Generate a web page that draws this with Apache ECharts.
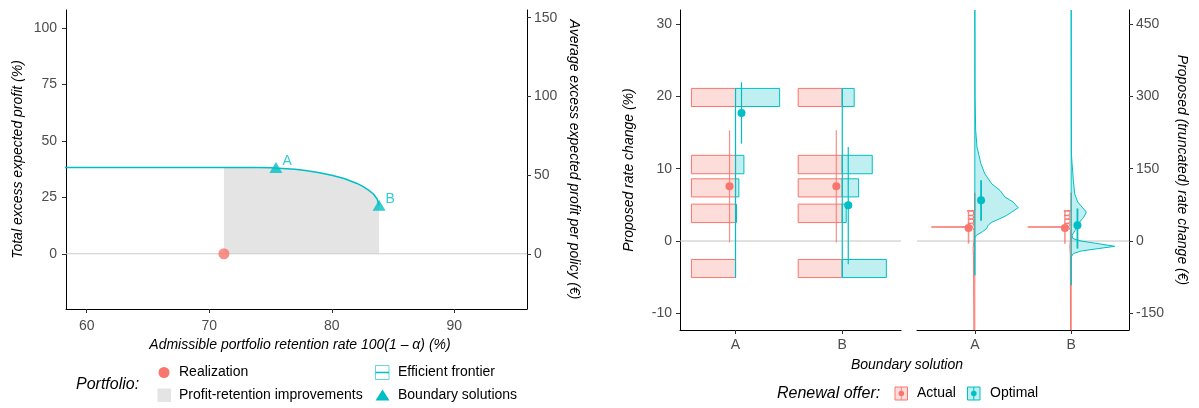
<!DOCTYPE html>
<html><head><meta charset="utf-8">
<script src="https://cdn.jsdelivr.net/npm/echarts@6/dist/echarts.min.js"></script>
<style>html,body{margin:0;padding:0;background:#fff}#chart{width:1199px;height:408px}</style>
</head><body><div id="chart"></div>
<script>
// ---------------- Left panel data ----------------
const retentionTicks = [60, 70, 80, 90];
const profitTicks = [0, 25, 50, 75, 100];
const perPolicyTicks = [0, 50, 100, 150];
const frontierX = [55.0, 74.0, 75.0, 76.0, 77.0, 78.0, 79.0, 80.0, 81.0, 82.0, 82.5, 83.0, 83.4, 83.7, 83.86];
const frontierY = [38.2, 38.2, 38.1, 37.85, 37.45, 36.8, 35.95, 34.85, 33.35, 31.3, 30.0, 28.2, 26.5, 24.3, 21.5];
const realizationX = [71.2];
const realizationY = [0];
const boundaryLabels = ['A', 'B'];
const boundaryX = [75.44, 83.86];
const boundaryY = [38.2, 21.5];

// ---------------- Right panel data ----------------
const boundaryCategories = ['A', 'B'];
const rateTicks = [-10, 0, 10, 20, 30];
const euroTicks = [-150, 0, 150, 300, 450];
const binLow = [18.6, 9.3, 6.1, 2.55, -5.05];
const binHigh = [21.1, 11.85, 8.6, 5.1, -2.55];
const actualShareA = [1, 1, 1, 1, 1];
const actualShareB = [1, 1, 1, 1, 1];
const optimalShareA = [1.0, 0.19, 0.076, 0.023, 0.0];
const optimalShareB = [0.27, 0.68, 0.37, 0.09, 1.0];
const actualRateMean = [7.57, 7.57];
const actualRateLow = [-0.2, -0.2];
const actualRateHigh = [15.3, 15.3];
const optimalRateMean = [17.7, 4.94];
const optimalRateLow = [13.47, -3.22];
const optimalRateHigh = [21.95, 13.0];
const actualEuroMean = [27, 27];
const actualEuroLow = [-5.4, -5.4];
const actualEuroHigh = [63.6, 63.6];
const optimalEuroMean = [84.5, 32.5];
const optimalEuroLow = [42, -15.75];
const optimalEuroHigh = [126, 67.5];
// densities (euro value, relative density)
const actualDensEuroA = [-600, -30, -15, 0, 22, 28.5, 29.1, 29.7, 33, 35.5, 36.5, 37.5, 44.5, 45.5, 46.5, 52, 53, 54, 61.5, 62.5, 63.5, 100];
const actualDensA     = [0, 0.03, 0.04, 0.02, 0.02, 0.05, 1.0, 0.05, 0.03, 0.03, 0.16, 0.03, 0.03, 0.15, 0.03, 0.03, 0.15, 0.03, 0.03, 0.18, 0, 0];
const actualDensEuroB = [-600, -30, -10, 0, 22, 28.5, 29.1, 29.7, 33, 35.5, 36.5, 37.5, 44.5, 45.5, 46.5, 52, 53, 54, 61.5, 62.5, 63.5, 100];
const actualDensB     = [0, 0.02, 0.03, 0.02, 0.02, 0.05, 1.0, 0.05, 0.03, 0.03, 0.15, 0.03, 0.03, 0.14, 0.03, 0.03, 0.16, 0.03, 0.03, 0.17, 0, 0];
const optimalDensEuroA = [-71, 7, 12, 19, 25.5, 33, 39, 46.5, 53, 60, 69, 81, 91.5, 105, 118.5, 139.5, 160.5, 195, 229.5, 300, 600];
const optimalDensA     = [0, 0, 0.04, 0.17, 0.27, 0.31, 0.39, 0.58, 0.73, 0.85, 1.0, 0.88, 0.69, 0.58, 0.39, 0.23, 0.14, 0.05, 0.02, 0.005, 0];
const optimalDensEuroB = [-91.5, -33, -26, -20.7, -15.75, -11, -5.4, 0, 5, 12, 22, 32.5, 39, 49.5, 60, 70.5, 81, 98, 126, 160.5, 181.5, 600];
const optimalDensB     = [0, 0, 0.05, 0.23, 0.62, 1.0, 0.62, 0.23, 0.04, 0.02, 0.09, 0.17, 0.19, 0.29, 0.35, 0.25, 0.15, 0.08, 0.05, 0.02, 0.005, 0];

// ---------------- Layout / style constants ----------------
const FONT = '"Liberation Sans", Arial, Helvetica, sans-serif';
const RED = '#F8766D', TEAL = '#00BFC4';
const RED_FILL = 'rgba(248,118,109,0.25)', TEAL_FILL = 'rgba(0,191,196,0.25)';
const LEFT_X = [58.31, 95.93], LEFT_Y = [-24.5, 108.1], LEFT_Y2 = [-35.1, 154.9];
const F1_X = [0.48, 2.55], RATE_Y = [-12.3, 31.94];
const F2_X = [0.4, 2.6], EURO_Y = [-184.5, 479.1];
const BAR_SCALE = 0.413, DENS_SCALE = 0.451, DODGE1 = 0.056, DODGE2 = 0.065;

const chart = echarts.init(document.getElementById('chart'), null, {renderer: 'canvas'});

const tickLabel = (extra) => Object.assign({color: '#4d4d4d', fontSize: 14, fontFamily: FONT, margin: 8}, extra || {});
const axisLine = {show: true, onZero: false, lineStyle: {color: '#000', width: 1}};
const axisTick = (vals) => ({show: true, length: 4, customValues: vals, lineStyle: {color: '#333', width: 1}});
const nameStyle = (extra) => Object.assign({fontStyle: 'italic', fontSize: 14, color: '#000', fontFamily: FONT}, extra || {});

// Left panel derived data
const frontierData = frontierX.map((x, i) => [x, frontierY[i]]);
function frontierAt(x) {
  for (let i = 1; i < frontierX.length; i++) {
    if (x <= frontierX[i]) {
      const t = (x - frontierX[i - 1]) / (frontierX[i] - frontierX[i - 1]);
      return frontierY[i - 1] + t * (frontierY[i] - frontierY[i - 1]);
    }
  }
  return frontierY[frontierY.length - 1];
}
const improveData = [[realizationX[0], frontierAt(realizationX[0])]].concat(frontierData.filter(p => p[0] > realizationX[0]));

// Right panel derived data
function barData(shares, catIdx) { return shares.map((s, j) => [catIdx + 1, binLow[j], binHigh[j], s]); }
const actualBars = barData(actualShareA, 0).concat(barData(actualShareB, 1));
const optimalBars = barData(optimalShareA, 0).concat(barData(optimalShareB, 1));
const binTop = Math.max.apply(null, binHigh), binBottom = Math.min.apply(null, binLow);

function barRender(fill, stroke, side) {
  return function (params, api) {
    const c = api.value(0), lo = api.value(1), hi = api.value(2), s = api.value(3);
    const a = api.coord([c, hi]);
    const b = api.coord([c + side * s * BAR_SCALE, lo]);
    return {type: 'rect', shape: {x: Math.min(a[0], b[0]), y: a[1], width: Math.abs(b[0] - a[0]), height: b[1] - a[1]},
      style: {fill: fill, stroke: stroke, lineWidth: 1}};
  };
}
function prRender(color, r, lw, op) {
  return function (params, api) {
    const x = api.value(0), m = api.value(1), lo = api.value(2), hi = api.value(3);
    const pm = api.coord([x, m]), pl = api.coord([x, lo]), ph = api.coord([x, hi]);
    return {type: 'group', children: [
      {type: 'line', shape: {x1: pl[0], y1: pl[1], x2: ph[0], y2: ph[1]}, style: {stroke: color, lineWidth: lw, opacity: op}},
      {type: 'circle', shape: {cx: pm[0], cy: pm[1], r: r}, style: {fill: color}}
    ]};
  };
}
function densRender(euros, dens, side, fill, stroke) {
  return function (params, api) {
    const i = params.dataIndex, c = api.value(0);
    const E = euros[i], V = dens[i];
    const pts = [api.coord([c, E[0]])];
    for (let k = 0; k < E.length; k++) pts.push(api.coord([c + side * V[k] * DENS_SCALE, E[k]]));
    pts.push(api.coord([c, E[E.length - 1]]));
    const cs = params.coordSys;
    return {type: 'polygon', shape: {points: pts}, style: {fill: fill, stroke: stroke, lineWidth: 1},
      clipPath: {type: 'rect', shape: {x: cs.x, y: cs.y, width: cs.width, height: cs.height}}};
  };
}
const catFmt = (v) => boundaryCategories[Math.round(v) - 1];

const option = {
  animation: false,
  backgroundColor: '#fff',
  grid: [
    {left: 66, top: 10, width: 461, height: 299, outerBoundsMode: 'none'},
    {left: 680, top: 10, width: 221, height: 320, outerBoundsMode: 'none'},
    {left: 917, top: 10, width: 212, height: 320, outerBoundsMode: 'none'}
  ],
  xAxis: [
    {gridIndex: 0, type: 'value', min: LEFT_X[0], max: LEFT_X[1], axisLine: axisLine, axisTick: axisTick(retentionTicks),
      axisLabel: tickLabel({customValues: retentionTicks, margin: 10}), splitLine: {show: false},
      name: 'Admissible portfolio retention rate 100(1 \u2013 \u03b1) (%)', nameLocation: 'middle', nameGap: 28,
      nameTextStyle: nameStyle({padding: [0, 0, 0, 7]})},
    {gridIndex: 1, type: 'value', min: F1_X[0], max: F1_X[1], axisLine: axisLine, axisTick: axisTick([1, 2]),
      axisLabel: tickLabel({customValues: [1, 2], formatter: catFmt, margin: 8}), splitLine: {show: false}},
    {gridIndex: 2, type: 'value', min: F2_X[0], max: F2_X[1], axisLine: axisLine, axisTick: axisTick([1, 2]),
      axisLabel: tickLabel({customValues: [1, 2], formatter: catFmt, margin: 8}), splitLine: {show: false}}
  ],
  yAxis: [
    {gridIndex: 0, type: 'value', position: 'left', min: LEFT_Y[0], max: LEFT_Y[1], axisLine: axisLine, axisTick: axisTick(profitTicks),
      axisLabel: tickLabel({customValues: profitTicks, margin: 9}), splitLine: {show: false},
      name: 'Total excess expected profit (%)', nameLocation: 'middle', nameGap: 41, nameTextStyle: nameStyle()},
    {gridIndex: 0, type: 'value', position: 'right', min: LEFT_Y2[0], max: LEFT_Y2[1], axisLine: axisLine, axisTick: axisTick(perPolicyTicks),
      axisLabel: tickLabel({customValues: perPolicyTicks, margin: 7}), splitLine: {show: false},
      name: 'Average excess expected profit per policy (\u20ac)', nameLocation: 'middle', nameGap: 40, nameRotate: -90, nameTextStyle: nameStyle()},
    {gridIndex: 1, type: 'value', position: 'left', min: RATE_Y[0], max: RATE_Y[1], axisLine: axisLine, axisTick: axisTick(rateTicks),
      axisLabel: tickLabel({customValues: rateTicks, margin: 8}), splitLine: {show: false},
      name: 'Proposed rate change (%)', nameLocation: 'middle', nameGap: 44, nameTextStyle: nameStyle()},
    {gridIndex: 2, type: 'value', position: 'right', min: EURO_Y[0], max: EURO_Y[1], axisLine: axisLine, axisTick: axisTick(euroTicks),
      axisLabel: tickLabel({customValues: euroTicks, margin: 7}), splitLine: {show: false},
      name: 'Proposed (truncated) rate change (\u20ac)', nameLocation: 'middle', nameGap: 46, nameRotate: -90, nameTextStyle: nameStyle()}
  ],
  series: [
    // ---- left panel
    {name: 'Profit-retention improvements', type: 'line', xAxisIndex: 0, yAxisIndex: 0, data: improveData, symbol: 'none',
      lineStyle: {width: 0}, areaStyle: {color: '#e4e4e4', opacity: 1}, silent: true, z: 1},
    {name: 'zero-left', type: 'line', xAxisIndex: 0, yAxisIndex: 0, data: [[LEFT_X[0], 0], [LEFT_X[1], 0]], symbol: 'none',
      lineStyle: {color: '#cccccc', width: 1}, silent: true, z: 2},
    {name: 'Efficient frontier', type: 'line', xAxisIndex: 0, yAxisIndex: 0, data: frontierData, symbol: 'none', smooth: false,
      lineStyle: {color: TEAL, width: 1.5}, silent: true, z: 3},
    {name: 'Realization', type: 'scatter', xAxisIndex: 0, yAxisIndex: 0, data: realizationX.map((x, i) => [x, realizationY[i]]),
      symbolSize: 11, itemStyle: {color: RED}, silent: true, z: 4},
    {name: 'Boundary solutions', type: 'scatter', xAxisIndex: 0, yAxisIndex: 0,
      data: boundaryX.map((x, i) => ({value: [x, boundaryY[i]], name: boundaryLabels[i]})),
      symbol: 'triangle', symbolSize: [13, 11], itemStyle: {color: TEAL}, silent: true, z: 5,
      label: {show: true, formatter: '{b}', position: 'right', distance: 0, offset: [0, -6], color: TEAL, fontSize: 14, fontFamily: FONT}},
    // ---- facet 1 (shares)
    {name: 'zero-f1', type: 'line', xAxisIndex: 1, yAxisIndex: 2, data: [[F1_X[0], 0], [F1_X[1], 0]], symbol: 'none',
      lineStyle: {color: '#c4c4c4', width: 1}, silent: true, z: 1},
    {name: 'Actual bars', type: 'custom', xAxisIndex: 1, yAxisIndex: 2, data: actualBars, renderItem: barRender(RED_FILL, RED, -1), silent: true, z: 2},
    {name: 'Optimal bars', type: 'custom', xAxisIndex: 1, yAxisIndex: 2, data: optimalBars, renderItem: barRender(TEAL_FILL, TEAL, 1), silent: true, z: 3},
    {name: 'Optimal baseline', type: 'custom', xAxisIndex: 1, yAxisIndex: 2, data: [[1, binTop, binBottom], [2, binTop, binBottom]],
      renderItem: function (params, api) {
        const a = api.coord([api.value(0), api.value(1)]), b = api.coord([api.value(0), api.value(2)]);
        return {type: 'line', shape: {x1: a[0], y1: a[1], x2: b[0], y2: b[1]}, style: {stroke: TEAL, lineWidth: 1.2}};
      }, silent: true, z: 4},
    {name: 'Actual rate', type: 'custom', xAxisIndex: 1, yAxisIndex: 2,
      data: actualRateMean.map((m, i) => [i + 1 - DODGE1, m, actualRateLow[i], actualRateHigh[i]]),
      renderItem: prRender(RED, 4, 1.2, 0.8), silent: true, z: 5},
    {name: 'Optimal rate', type: 'custom', xAxisIndex: 1, yAxisIndex: 2,
      data: optimalRateMean.map((m, i) => [i + 1 + DODGE1, m, optimalRateLow[i], optimalRateHigh[i]]),
      renderItem: prRender(TEAL, 4, 1.2, 1), silent: true, z: 6},
    // ---- facet 2 (euro densities)
    {name: 'zero-f2', type: 'line', xAxisIndex: 2, yAxisIndex: 3, data: [[F2_X[0], 0], [F2_X[1], 0]], symbol: 'none',
      lineStyle: {color: '#c4c4c4', width: 1}, silent: true, z: 1},
    {name: 'Actual density', type: 'custom', xAxisIndex: 2, yAxisIndex: 3, data: [[1, 0], [2, 0]],
      renderItem: densRender([actualDensEuroA, actualDensEuroB], [actualDensA, actualDensB], -1, RED_FILL, RED), silent: true, z: 2},
    {name: 'Optimal density', type: 'custom', xAxisIndex: 2, yAxisIndex: 3, data: [[1, 0], [2, 0]],
      renderItem: densRender([optimalDensEuroA, optimalDensEuroB], [optimalDensA, optimalDensB], 1, TEAL_FILL, TEAL), silent: true, z: 3},
    {name: 'Actual euro', type: 'custom', xAxisIndex: 2, yAxisIndex: 3,
      data: actualEuroMean.map((m, i) => [i + 1 - DODGE2, m, actualEuroLow[i], actualEuroHigh[i]]),
      renderItem: prRender(RED, 4, 1.6, 0.8), silent: true, z: 4},
    {name: 'Optimal euro', type: 'custom', xAxisIndex: 2, yAxisIndex: 3,
      data: optimalEuroMean.map((m, i) => [i + 1 + DODGE2, m, optimalEuroLow[i], optimalEuroHigh[i]]),
      renderItem: prRender(TEAL, 4, 1.8, 1), silent: true, z: 5}
  ],
  graphic: [
    {type: 'text', x: 907, y: 365, silent: true, style: {text: 'Boundary solution', font: 'italic 14px ' + FONT, fill: '#000', align: 'center', verticalAlign: 'middle'}},
    // left legend
    {type: 'text', x: 76, y: 385, silent: true, style: {text: 'Portfolio:', font: 'italic 16px ' + FONT, fill: '#000', align: 'left', verticalAlign: 'middle'}},
    {type: 'circle', silent: true, shape: {cx: 164, cy: 372.5, r: 5.5}, style: {fill: RED}},
    {type: 'text', x: 179, y: 372.5, silent: true, style: {text: 'Realization', font: '14px ' + FONT, fill: '#000', verticalAlign: 'middle'}},
    {type: 'rect', silent: true, shape: {x: 157.5, y: 388.5, width: 13.5, height: 13.5}, style: {fill: '#e4e4e4'}},
    {type: 'text', x: 179, y: 395.5, silent: true, style: {text: 'Profit-retention improvements', font: '14px ' + FONT, fill: '#000', verticalAlign: 'middle'}},
    {type: 'rect', silent: true, shape: {x: 375.5, y: 365.5, width: 13.5, height: 14}, style: {fill: '#fff', stroke: 'rgba(0,191,196,0.6)', lineWidth: 1}},
    {type: 'line', silent: true, shape: {x1: 375.5, y1: 372.5, x2: 389, y2: 372.5}, style: {stroke: TEAL, lineWidth: 1.5}},
    {type: 'text', x: 398, y: 372.5, silent: true, style: {text: 'Efficient frontier', font: '14px ' + FONT, fill: '#000', verticalAlign: 'middle'}},
    {type: 'polygon', silent: true, shape: {points: [[375.5, 400.5], [389.5, 400.5], [382.5, 389.5]]}, style: {fill: TEAL}},
    {type: 'text', x: 398, y: 395.5, silent: true, style: {text: 'Boundary solutions', font: '14px ' + FONT, fill: '#000', verticalAlign: 'middle'}},
    // right legend
    {type: 'text', x: 777, y: 393.5, silent: true, style: {text: 'Renewal offer:', font: 'italic 16px ' + FONT, fill: '#000', align: 'left', verticalAlign: 'middle'}},
    {type: 'rect', silent: true, shape: {x: 895, y: 387, width: 12.5, height: 13}, style: {fill: RED_FILL, stroke: RED, lineWidth: 1}},
    {type: 'line', silent: true, shape: {x1: 901.3, y1: 387, x2: 901.3, y2: 400}, style: {stroke: RED, lineWidth: 1, opacity: 0.8}},
    {type: 'circle', silent: true, shape: {cx: 901.3, cy: 393.5, r: 2.8}, style: {fill: RED}},
    {type: 'text', x: 917, y: 393.5, silent: true, style: {text: 'Actual', font: '14px ' + FONT, fill: '#000', verticalAlign: 'middle'}},
    {type: 'rect', silent: true, shape: {x: 967.5, y: 387, width: 12.5, height: 13}, style: {fill: TEAL_FILL, stroke: TEAL, lineWidth: 1}},
    {type: 'line', silent: true, shape: {x1: 973.8, y1: 387, x2: 973.8, y2: 400}, style: {stroke: TEAL, lineWidth: 1}},
    {type: 'circle', silent: true, shape: {cx: 973.8, cy: 393.5, r: 2.8}, style: {fill: TEAL}},
    {type: 'text', x: 990, y: 393.5, silent: true, style: {text: 'Optimal', font: '14px ' + FONT, fill: '#000', verticalAlign: 'middle'}}
  ]
};
chart.setOption(option);
</script></body></html>
